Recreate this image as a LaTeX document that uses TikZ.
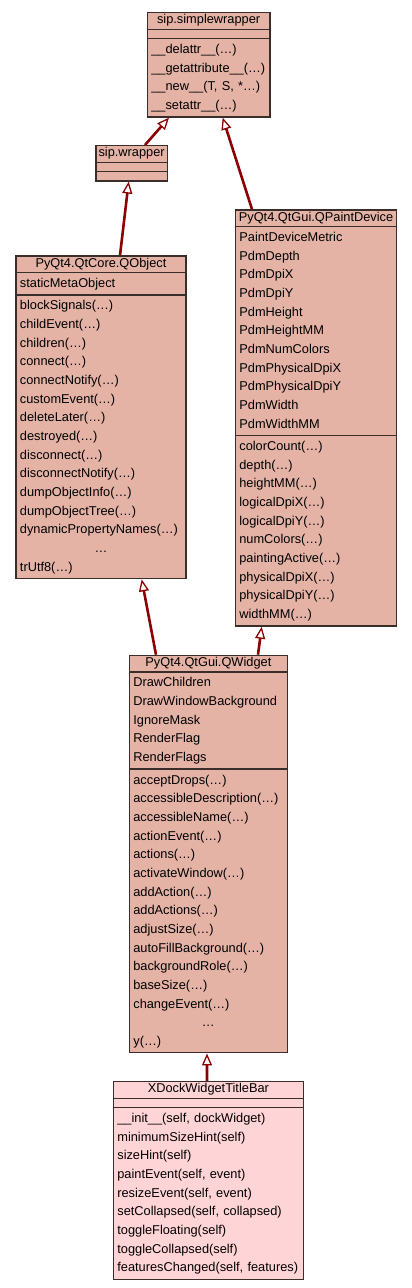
\documentclass[tikz,border=0pt]{standalone}
\usepackage{fontspec}
\newfontfamily\umlfont{Liberation Sans}
\usetikzlibrary{shapes.multipart,arrows.meta}

\definecolor{clsfill}{RGB}{229,179,166}
\definecolor{ownfill}{RGB}{255,212,214}
\definecolor{clsline}{RGB}{58,46,42}
\definecolor{inherit}{RGB}{139,0,0}

% class name row and empty row
\newcommand\clsname[1]{\centerline{\rule[-3.7bp]{0pt}{11.2bp}#1}}
\newcommand\noattr{\rule{0pt}{5.6bp}}

\begin{document}
\begin{tikzpicture}[x=1bp,y=-1bp,
  class/.style={rectangle split,rectangle split parts=3,draw=clsline,fill=clsfill,
    line width=1.3bp,inner xsep=4bp,inner ysep=1.2bp,anchor=north west,
    font=\umlfont\fontsize{12.8bp}{18.67bp}\selectfont},
  parent/.style={-{Triangle[open,length=12bp,width=10bp,line width=1.3bp]},
    draw=inherit,line width=2.6bp}]

 \useasboundingbox (0,0) rectangle (411,1288);

 \node[class,text width=114.6bp] (simple) at (146.7,12) {\clsname{sip.simplewrapper}
   \nodepart{two}\noattr
   \nodepart{three}\strut\_\_delattr\_\_(…)\\ \_\_getattribute\_\_(…)\\
   \_\_new\_\_(T, S, *…)\\ \_\_setattr\_\_(…)\strut};
 \node[class,text width=63.4bp] (wrapper) at (95.3,145) {\clsname{sip.wrapper}
   \nodepart{two}\noattr
   \nodepart{three}\noattr};
 \node[class,text width=162bp] (qobject) at (15.3,255.3) {\clsname{PyQt4.QtCore.QObject}
   \nodepart{two}\strut staticMetaObject\strut
   \nodepart{three}\strut blockSignals(…)\\ childEvent(…)\\ children(…)\\ connect(…)\\
   connectNotify(…)\\ customEvent(…)\\ deleteLater(…)\\ destroyed(…)\\ disconnect(…)\\
   disconnectNotify(…)\\ dumpObjectInfo(…)\\ dumpObjectTree(…)\\
   dynamicPropertyNames(…)\par\centerline{…}trUtf8(…)\strut};
 \node[class,text width=153.3bp] (paintdev) at (234.7,209.3) {\clsname{PyQt4.QtGui.QPaintDevice}
   \nodepart{two}\strut PaintDeviceMetric\\ PdmDepth\\ PdmDpiX\\ PdmDpiY\\ PdmHeight\\
   PdmHeightMM\\ PdmNumColors\\ PdmPhysicalDpiX\\ PdmPhysicalDpiY\\ PdmWidth\\ PdmWidthMM\strut
   \nodepart{three}\strut colorCount(…)\\ depth(…)\\ heightMM(…)\\ logicalDpiX(…)\\
   logicalDpiY(…)\\ numColors(…)\\ paintingActive(…)\\ physicalDpiX(…)\\
   physicalDpiY(…)\\ widthMM(…)\strut};
 \node[class,text width=150bp] (qwidget) at (128.7,654.7) {\clsname{PyQt4.QtGui.QWidget}
   \nodepart{two}\strut DrawChildren\\ DrawWindowBackground\\ IgnoreMask\\ RenderFlag\\
   RenderFlags\strut
   \nodepart{three}\strut acceptDrops(…)\\ accessibleDescription(…)\\ accessibleName(…)\\
   actionEvent(…)\\ actions(…)\\ activateWindow(…)\\ addAction(…)\\ addActions(…)\\
   adjustSize(…)\\ autoFillBackground(…)\\ backgroundRole(…)\\ baseSize(…)\\
   changeEvent(…)\par\centerline{…}y(…)\strut};
 \node[class,fill=ownfill,text width=182bp] (titlebar) at (112.7,1081) {\clsname{XDockWidgetTitleBar}
   \nodepart{two}\noattr
   \nodepart{three}\strut\_\_init\_\_(self, dockWidget)\\ minimumSizeHint(self)\\
   sizeHint(self)\\ paintEvent(self, event)\\ resizeEvent(self, event)\\
   setCollapsed(self, collapsed)\\ toggleFloating(self)\\ toggleCollapsed(self)\\
   featuresChanged(self, features)\strut};

 \draw[parent] ([xshift=49.7bp]wrapper.north west) -- ([xshift=22.3bp]simple.south west);
 \draw[parent] ([xshift=17.3bp]paintdev.north west) -- ([xshift=76bp]simple.south west);
 \draw[parent] ([xshift=104.7bp]qobject.north west) -- ([xshift=33.4bp]wrapper.south west);
 \draw[parent] ([xshift=27.3bp]qwidget.north west) -- ([xshift=126.4bp]qobject.south west);
 \draw[parent] ([xshift=129.3bp]qwidget.north west) -- ([xshift=27bp]paintdev.south west);
 \draw[parent] ([xshift=94.3bp]titlebar.north west) -- ([xshift=78.3bp]qwidget.south west);

\end{tikzpicture}
\end{document}
